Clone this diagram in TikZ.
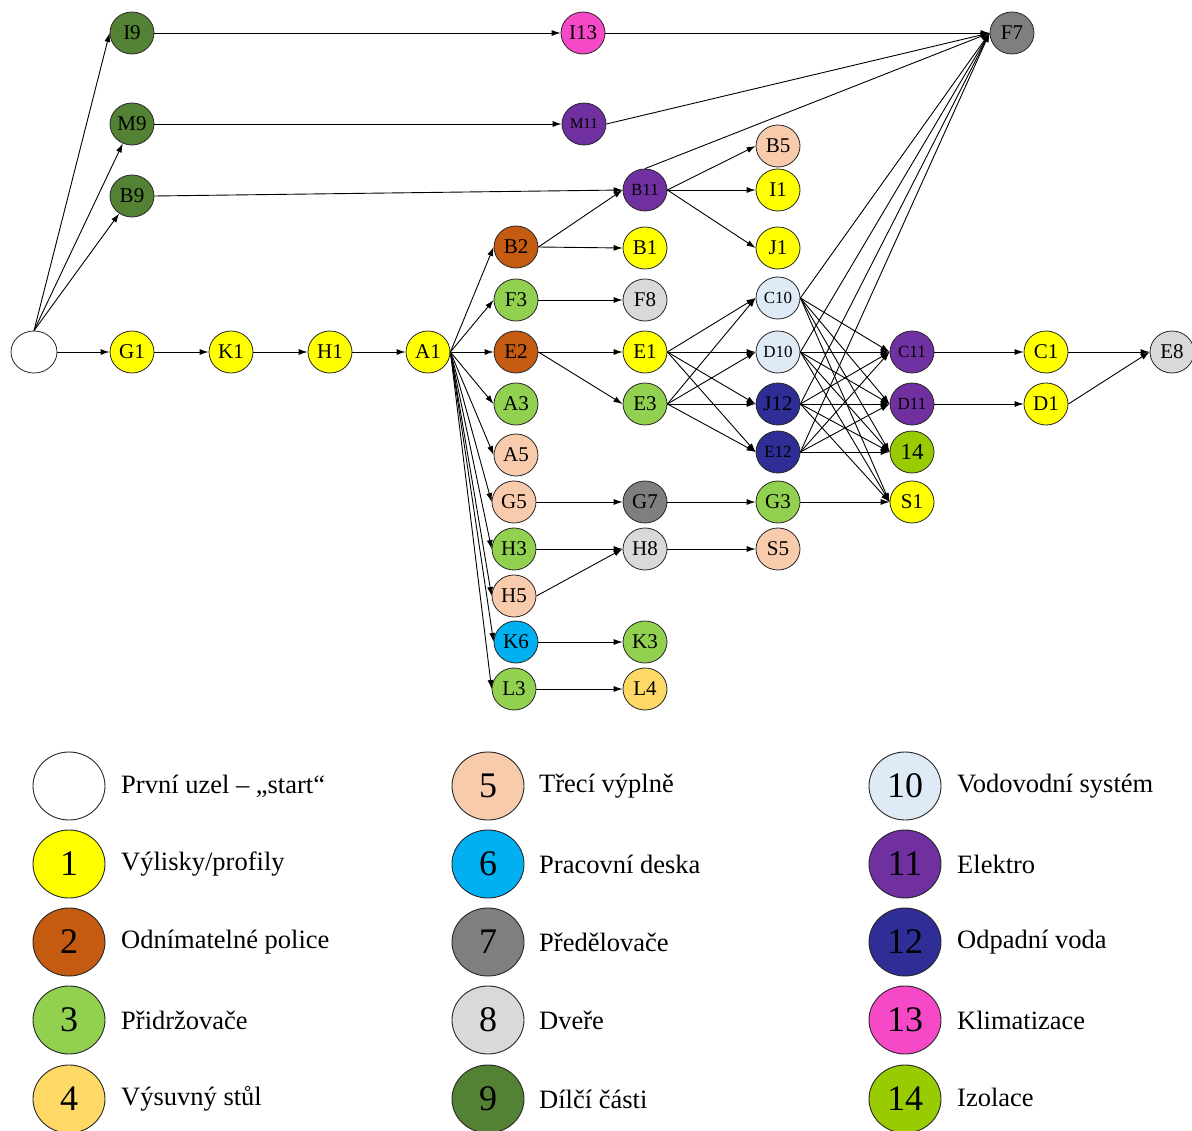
\documentclass[tikz,border=0pt]{standalone}
\usepackage{fontspec}
\setmainfont{Liberation Serif}
\usetikzlibrary{shapes.geometric,arrows.meta}

% category colours
\definecolor{cYellow}{HTML}{FFFF00}
\definecolor{cBrown}{HTML}{C55A11}
\definecolor{cGreen}{HTML}{92D050}
\definecolor{cGold}{HTML}{FFD966}
\definecolor{cPeach}{HTML}{F8CBAD}
\definecolor{cCyan}{HTML}{00B0F0}
\definecolor{cGrey}{HTML}{7F7F7F}
\definecolor{cLight}{HTML}{D9D9D9}
\definecolor{cDkGreen}{HTML}{548235}
\definecolor{cIce}{HTML}{DEEBF7}
\definecolor{cPurple}{HTML}{7030A0}
\definecolor{cNavy}{HTML}{2E2E96}
\definecolor{cPink}{HTML}{F549C8}
\definecolor{cLime}{HTML}{99CC00}

\tikzset{
  nd/.style={ellipse, draw=black!85, line width=0.8pt, minimum width=44pt,
    minimum height=42pt, inner sep=0pt, font=\fontsize{21}{21}\selectfont},
  sm/.style={font=\fontsize{17}{17}\selectfont},
  xs/.style={font=\fontsize{15}{15}\selectfont},
  arr/.style={-{Latex[length=9pt,width=6pt]}, line width=0.9pt},
  lg/.style={ellipse, draw=black!85, line width=0.9pt, minimum width=72pt,
    minimum height=68pt, inner sep=0pt, font=\fontsize{36}{36}\selectfont},
  lt/.style={anchor=west, inner sep=0pt, font=\fontsize{26.5}{26.5}\selectfont},
}

\begin{document}
\begin{tikzpicture}[x=1pt,y=-1pt]
\useasboundingbox (0,0) rectangle (1192,1131);

% ---- nodes of the network ----
\node[nd, fill=white, minimum width=46pt] (S) at (34,352) {};
\node[nd, fill=cDkGreen] (I9) at (132,33) {I9};
\node[nd, fill=cDkGreen] (M9) at (132,124) {M9};
\node[nd, fill=cDkGreen] (B9) at (132,196) {B9};
\node[nd, fill=cYellow] (G1) at (132,352) {G1};
\node[nd, fill=cYellow] (K1) at (231,352) {K1};
\node[nd, fill=cYellow] (H1) at (330,352) {H1};
\node[nd, fill=cYellow] (A1) at (428,352) {A1};

\node[nd, fill=cPink] (I13) at (583,33) {I13};
\node[nd, fill=cPurple, xs] (M11) at (584,124) {M11};
\node[nd, fill=cPurple, sm] (B11) at (645,190) {B11};
\node[nd, fill=cGrey] (F7) at (1012,33) {F7};

\node[nd, fill=cBrown] (B2) at (516,247) {B2};
\node[nd, fill=cGreen] (F3) at (516,300) {F3};
\node[nd, fill=cBrown] (E2) at (516,352) {E2};
\node[nd, fill=cGreen] (A3) at (516,404) {A3};
\node[nd, fill=cPeach] (A5) at (516,455) {A5};
\node[nd, fill=cPeach] (G5) at (514,502) {G5};
\node[nd, fill=cGreen] (H3) at (514,549) {H3};
\node[nd, fill=cPeach] (H5) at (514,596) {H5};
\node[nd, fill=cCyan] (K6) at (516,642) {K6};
\node[nd, fill=cGreen] (L3) at (514,689) {L3};

\node[nd, fill=cYellow] (B1) at (645,248) {B1};
\node[nd, fill=cLight] (F8) at (645,300) {F8};
\node[nd, fill=cYellow] (E1) at (645,352) {E1};
\node[nd, fill=cGreen] (E3) at (645,404) {E3};
\node[nd, fill=cGrey] (G7) at (645,502) {G7};
\node[nd, fill=cLight] (H8) at (645,549) {H8};
\node[nd, fill=cGreen] (K3) at (645,642) {K3};
\node[nd, fill=cGold] (L4) at (645,689) {L4};

\node[nd, fill=cPeach] (B5) at (778,146) {B5};
\node[nd, fill=cYellow] (I1) at (778,190) {I1};
\node[nd, fill=cYellow] (J1) at (778,248) {J1};
\node[nd, fill=cIce, sm] (C10) at (778,298) {C10};
\node[nd, fill=cIce, sm] (D10) at (778,352) {D10};
\node[nd, fill=cNavy] (J12) at (778,404) {J12};
\node[nd, fill=cNavy, sm] (E12) at (778,452) {E12};
\node[nd, fill=cGreen] (G3) at (778,502) {G3};
\node[nd, fill=cPeach] (S5) at (778,549) {S5};

\node[nd, fill=cPurple, sm] (C11) at (912,352) {C11};
\node[nd, fill=cPurple, sm] (D11) at (912,404) {D11};
\node[nd, fill=cLime, font=\fontsize{23}{23}\selectfont] (N14) at (912,452) {14};
\node[nd, fill=cYellow] (S1) at (912,502) {S1};

\node[nd, fill=cYellow] (C1) at (1046,352) {C1};
\node[nd, fill=cYellow] (D1) at (1046,404) {D1};
\node[nd, fill=cLight] (E8) at (1172,352) {E8};

% ---- connectors ----
\draw[arr] (S.north) -- (I9.west);
\draw[arr] (S.north) -- (M9);
\draw[arr] (S.north) -- (B9);
\draw[arr] (S.east) -- (G1.west);
\draw[arr] (G1.east) -- (K1.west);
\draw[arr] (K1.east) -- (H1.west);
\draw[arr] (H1.east) -- (A1.west);

\draw[arr] (I9.east) -- (I13.west);
\draw[arr] (M9.east) -- (M11.west);
\draw[arr] (B9.east) -- (B11.west);
\draw[arr] (I13.east) -- (F7.west);
\draw[arr] (M11.east) -- (F7.west);
\draw[arr] (B11.north) -- (F7.west);

\foreach \t in {B2,F3,E2,A3,A5,G5,H3,H5,K6,L3}
  \draw[arr] (A1.east) -- (\t.west);

\draw[arr] (B2.east) -- (B11.west);
\draw[arr] (B2.east) -- (B1.west);
\draw[arr] (F3.east) -- (F8.west);
\draw[arr] (E2.east) -- (E1.west);
\draw[arr] (E2.east) -- (E3.west);
\draw[arr] (G5.east) -- (G7.west);
\draw[arr] (H3.east) -- (H8.west);
\draw[arr] (H5.east) -- (H8.west);
\draw[arr] (K6.east) -- (K3.west);
\draw[arr] (L3.east) -- (L4.west);

\draw[arr] (B11.east) -- (B5.west);
\draw[arr] (B11.east) -- (I1.west);
\draw[arr] (B11.east) -- (J1.west);

\foreach \s in {E1,E3}
  \foreach \t in {C10,D10,J12,E12}
    \draw[arr] (\s.east) -- (\t.west);

\draw[arr] (G7.east) -- (G3.west);
\draw[arr] (H8.east) -- (S5.west);

\foreach \s in {C10,D10,J12,E12}{
  \draw[arr] (\s.east) -- (F7.west);
  \foreach \t in {C11,D11,N14}
    \draw[arr] (\s.east) -- (\t.west);
}
\foreach \s in {C10,D10,J12}
  \draw[arr] (\s.east) -- (S1.west);
\draw[arr] (G3.east) -- (S1.west);

\draw[arr] (C11.east) -- (C1.west);
\draw[arr] (D11.east) -- (D1.west);
\draw[arr] (C1.east) -- (E8.west);
\draw[arr] (D1.east) -- (E8.west);

% ---- legend ----
\node[lg, fill=white] (L0) at (69,786) {};
\node[lg, fill=cYellow] (L1) at (69,864) {1};
\node[lg, fill=cBrown] (L2) at (69,942) {2};
\node[lg, fill=cGreen] (L3x) at (69,1020) {3};
\node[lg, fill=cGold] (L4x) at (69,1099) {4};
\node[lt] (T0) at (121,786) {První uzel – „start“};
\node[lt] (T1) at (121,864) {Výlisky/profily};
\node[lt] (T2) at (121,942) {Odnímatelné police};
\node[lt] (T3) at (121,1020) {Přidržovače};
\node[lt] (T4) at (121,1099) {Výsuvný stůl};

\node[lg, fill=cPeach] (L5) at (488,786) {5};
\node[lg, fill=cCyan] (L6) at (488,864) {6};
\node[lg, fill=cGrey] (L7) at (488,942) {7};
\node[lg, fill=cLight] (L8) at (488,1020) {8};
\node[lg, fill=cDkGreen] (L9) at (488,1099) {9};
\node[lt] (T5) at (539,786) {Třecí výplně};
\node[lt] (T6) at (539,864) {Pracovní deska};
\node[lt] (T7) at (539,942) {Předělovače};
\node[lt] (T8) at (539,1020) {Dveře};
\node[lt] (T9) at (539,1099) {Dílčí části};

\node[lg, fill=cIce] (L10) at (905,786) {10};
\node[lg, fill=cPurple] (L11) at (905,864) {11};
\node[lg, fill=cNavy] (L12) at (905,942) {12};
\node[lg, fill=cPink] (L13) at (905,1020) {13};
\node[lg, fill=cLime] (L14) at (905,1099) {14};
\node[lt] (T10) at (957,786) {Vodovodní systém};
\node[lt] (T11) at (957,864) {Elektro};
\node[lt] (T12) at (957,942) {Odpadní voda};
\node[lt] (T13) at (957,1020) {Klimatizace};
\node[lt] (T14) at (957,1097) {Izolace};
\end{tikzpicture}
\end{document}
